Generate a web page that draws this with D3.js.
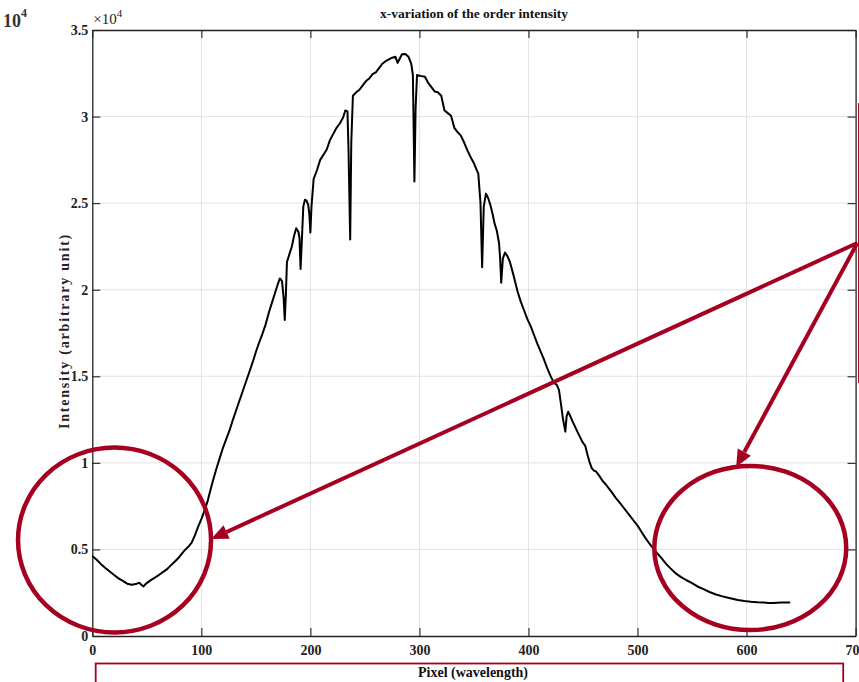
<!DOCTYPE html>
<html>
<head>
<meta charset="utf-8">
<script src="https://cdn.jsdelivr.net/npm/d3@7"></script>
<style>
  body { margin: 0; background: #fff; }
  svg { display: block; }
  text { font-family: "Liberation Serif", "Times New Roman", serif; }
</style>
</head>
<body>
<div id="chart"></div>
<script>
// pixel index along the order
const pixel = [0, 4, 8, 12, 16, 20, 24, 28, 32, 36, 40, 43, 45, 47, 49, 53, 57, 61, 65, 68,
	72, 76, 80, 84, 88, 91, 94, 97, 100, 103, 106, 108, 111, 114, 117, 120, 123, 126, 129, 132,
	135, 138, 141, 144, 147, 150, 153, 156, 159, 162, 165, 168, 170, 172, 174, 175.5, 176.5, 177.5, 178.5, 181,
	183, 185, 187, 189, 190, 191, 192, 193.5, 195, 196.5, 198, 199, 200, 201, 203, 206, 209, 212, 215, 218,
	221, 224, 227, 230, 232, 234, 235, 236.5, 237.5, 239, 242, 245, 248, 251, 254, 257, 260, 263, 266, 269,
	272, 275, 278, 280, 282, 284, 287, 290, 292.5, 294, 295.4, 296.5, 297.8, 301, 305, 308, 311, 314, 317, 320,
	323, 326, 329, 332, 335, 338, 341, 344, 347, 350, 352, 354, 356, 357.5, 359, 361, 363, 365, 367, 369,
	371, 373, 374, 375, 376.5, 378.5, 381, 383, 386, 388, 390, 393, 396, 399, 402, 405, 408, 411, 414, 417,
	420, 423, 426, 428, 430, 431.5, 433.8, 435, 436.4, 438, 440, 443, 445.6, 448, 450, 452, 454, 456, 458, 460,
	462, 465, 468, 471, 474, 477, 480, 484, 488, 492, 496, 500, 503, 507, 511, 515, 518, 522, 526, 530,
	535, 540, 545, 550, 555, 560, 566, 572, 578, 585, 592, 598, 604, 610, 616, 620, 624, 628, 632, 636, 640];

// intensity (arbitrary unit)
const intensity = [4620, 4400, 4150, 3930, 3720, 3520, 3330, 3180, 3020, 2960, 3000, 3080, 2960, 2860, 3010, 3200, 3360, 3520, 3700, 3830,
	4080, 4320, 4580, 4900, 5150, 5380, 5800, 6300, 6750, 7250, 7850, 8350, 9050, 9700, 10300, 10900, 11400, 11900, 12500, 13050,
	13600, 14150, 14700, 15250, 15800, 16400, 16950, 17450, 18000, 18700, 19300, 19900, 20300, 20650, 20500, 19500, 18250, 19700, 21600, 22100,
	22500, 23100, 23550, 23350, 23000, 21200, 22600, 24800, 25200, 25150, 24900, 24400, 23300, 24800, 26400, 26900, 27500, 27800, 28100, 28650,
	29000, 29350, 29600, 29950, 30350, 30300, 28000, 22900, 28500, 31200, 31400, 31550, 31800, 32050, 32200, 32450, 32550, 32800, 33050, 33200,
	33300, 33400, 33450, 33100, 33350, 33600, 33620, 33450, 33050, 32400, 26250, 30500, 32400, 32350, 32300, 31950, 31700, 31450, 31400, 31200,
	30350, 30200, 30050, 29350, 29100, 28900, 28500, 28050, 27650, 27300, 27000, 26700, 25000, 21300, 24800, 25550, 25300, 24900, 24400, 23800,
	23400, 22700, 21800, 20400, 21800, 22150, 21900, 21600, 20900, 20400, 19900, 19300, 18800, 18300, 17900, 17400, 16900, 16450, 16000, 15500,
	15050, 14650, 14500, 14200, 13300, 12600, 11800, 12700, 12950, 12750, 12450, 12050, 11700, 11400, 11150, 11000, 10500, 10050, 9700, 9550,
	9500, 9250, 8950, 8750, 8500, 8250, 7980, 7680, 7350, 7030, 6700, 6380, 6080, 5680, 5330, 5000, 4780, 4500, 4180, 3920,
	3620, 3400, 3220, 3050, 2860, 2720, 2540, 2400, 2290, 2180, 2080, 2020, 1980, 1950, 1930, 1900, 1910, 1920, 1930, 1935, 1940];

const xTicks = [0, 100, 200, 300, 400, 500, 600, 700];
const yTicks = [0, 5000, 10000, 15000, 20000, 25000, 30000, 35000];
const yTickLabels = ['0', '0.5', '1', '1.5', '2', '2.5', '3', '3.5'];

// red annotations, in data units
const circleCx = [20.4, 603.4];
const circleCy = [5545, 5083];
const circleRx = [88.5, 88];
const circleRy = [5342, 4740];
const arrowFrom = [701.6, 22700];
const arrowTipsX = [109, 590.5];
const arrowTipsY = [5600, 9760];
const markerLineX = 703;
const markerLineY = [30790, 14610];

var W = 859, H = 682;
var margin = { top: 30, right: 3.4, bottom: 46, left: 92.3 };
var red = '#a50021';

var svg = d3.select('#chart').append('svg').attr('width', W).attr('height', H);

var x = d3.scaleLinear().domain([0, 700]).range([margin.left, W - margin.right]);
var y = d3.scaleLinear().domain([0, 35000]).range([H - margin.bottom, margin.top]);

// grid
svg.append('g')
	.selectAll('line')
	.data(xTicks.slice(1, -1))
	.enter()
	.append('line')
	.attr('x1', (d) => x(d)).attr('x2', (d) => x(d))
	.attr('y1', y(0)).attr('y2', y(35000))
	.attr('stroke', '#e3e3e3').attr('stroke-width', 1);
svg.append('g')
	.selectAll('line')
	.data(yTicks.slice(1, -1))
	.enter()
	.append('line')
	.attr('x1', x(0)).attr('x2', x(700))
	.attr('y1', (d) => y(d)).attr('y2', (d) => y(d))
	.attr('stroke', '#e3e3e3').attr('stroke-width', 1);

// axes, ticks inward on all four sides
var tl = 8;
var axBottom = svg.append('g')
	.attr('transform', 'translate(0,' + y(0) + ')')
	.call(d3.axisBottom(x).tickValues(xTicks).tickSize(-tl).tickPadding(9).tickSizeOuter(0));
var axTop = svg.append('g')
	.attr('transform', 'translate(0,' + y(35000) + ')')
	.call(d3.axisTop(x).tickValues(xTicks).tickSize(-tl).tickFormat('').tickSizeOuter(0));
var axLeft = svg.append('g')
	.attr('transform', 'translate(' + x(0) + ',0)')
	.call(d3.axisLeft(y).tickValues(yTicks).tickSize(-tl).tickPadding(4).tickSizeOuter(0)
		.tickFormat((d, i) => yTickLabels[i]));
var axRight = svg.append('g')
	.attr('transform', 'translate(' + x(700) + ',0)')
	.call(d3.axisRight(y).tickValues(yTicks).tickSize(-tl).tickFormat('').tickSizeOuter(0));

[axBottom, axTop, axLeft, axRight].forEach((g) => {
	g.select('.domain').attr('stroke', '#222').attr('stroke-width', 1.3);
	g.selectAll('.tick line').attr('stroke', '#222').attr('stroke-width', 1.1);
	g.selectAll('text')
		.attr('fill', '#222')
		.attr('font-size', '14px')
		.attr('font-weight', 'bold')
		.style('font-family', '"Liberation Serif", serif');
});

// exponent near the y axis
var expo = svg.append('text').attr('x', x(0) + 1).attr('y', 24).attr('font-size', '15px').attr('fill', '#222');
expo.append('tspan').text('\u00d710');
expo.append('tspan').attr('dy', -7).attr('font-size', '11px').text('4');

// the stray 10^4 at top left
var expo2 = svg.append('text').attr('x', 3).attr('y', 27).attr('font-size', '18px').attr('font-weight', 'bold').attr('fill', '#333');
expo2.append('tspan').text('10');
expo2.append('tspan').attr('dy', -10).attr('font-size', '12px').text('4');

// title and labels
svg.append('text')
	.attr('x', 474).attr('y', 18)
	.attr('text-anchor', 'middle')
	.attr('font-size', '13.5px').attr('font-weight', 'bold').attr('fill', '#111')
	.text('x-variation of the order intensity');

svg.append('text')
	.attr('transform', 'translate(69,' + 331 + ')rotate(-90)')
	.attr('text-anchor', 'middle')
	.attr('font-size', '14px').attr('font-weight', 'bold').attr('fill', '#222')
	.attr('letter-spacing', '1.8px')
	.text('Intensity (arbitrary unit)');

svg.append('text')
	.attr('x', 473).attr('y', 677)
	.attr('text-anchor', 'middle')
	.attr('font-size', '14px').attr('font-weight', 'bold').attr('fill', '#111')
	.text('Pixel (wavelength)');

// red box around the x label
svg.append('rect')
	.attr('x', 95.7).attr('y', 663.5)
	.attr('width', 747.5).attr('height', 40)
	.attr('fill', 'none').attr('stroke', red).attr('stroke-width', 1.8);

// the curve
var pts = pixel.map((p, i) => [p, intensity[i]]);
var line = d3.line().x((d) => x(d[0])).y((d) => y(d[1]));
svg.append('path')
	.datum(pts)
	.attr('d', line)
	.attr('fill', 'none')
	.attr('stroke', '#000')
	.attr('stroke-width', 2)
	.attr('stroke-linejoin', 'round');

// annotations
var ann = svg.append('g');
ann.append('line')
	.attr('x1', x(markerLineX)).attr('x2', x(markerLineX))
	.attr('y1', y(markerLineY[0])).attr('y2', y(markerLineY[1]))
	.attr('stroke', red).attr('stroke-width', 1.6);

circleCx.forEach((cx, i) => {
	ann.append('ellipse')
		.attr('cx', x(cx)).attr('cy', y(circleCy[i]))
		.attr('rx', x(circleRx[i]) - x(0)).attr('ry', y(0) - y(circleRy[i]))
		.attr('fill', 'none').attr('stroke', red).attr('stroke-width', 4.5);
});

arrowTipsX.forEach((tx, i) => {
	var x0 = x(arrowFrom[0]), y0 = y(arrowFrom[1]);
	var x1 = x(tx), y1 = y(arrowTipsY[i]);
	var ang = Math.atan2(y1 - y0, x1 - x0);
	var len = 17, half = 7.5;
	var bx = x1 - len * Math.cos(ang), by = y1 - len * Math.sin(ang);
	ann.append('line')
		.attr('x1', x0).attr('y1', y0).attr('x2', bx).attr('y2', by)
		.attr('stroke', red).attr('stroke-width', 4);
	var p1 = [bx + half * Math.sin(ang), by - half * Math.cos(ang)];
	var p2 = [bx - half * Math.sin(ang), by + half * Math.cos(ang)];
	ann.append('polygon')
		.attr('points', [[x1, y1], p1, p2].map((p) => p.join(',')).join(' '))
		.attr('fill', red);
});
</script>
</body>
</html>
